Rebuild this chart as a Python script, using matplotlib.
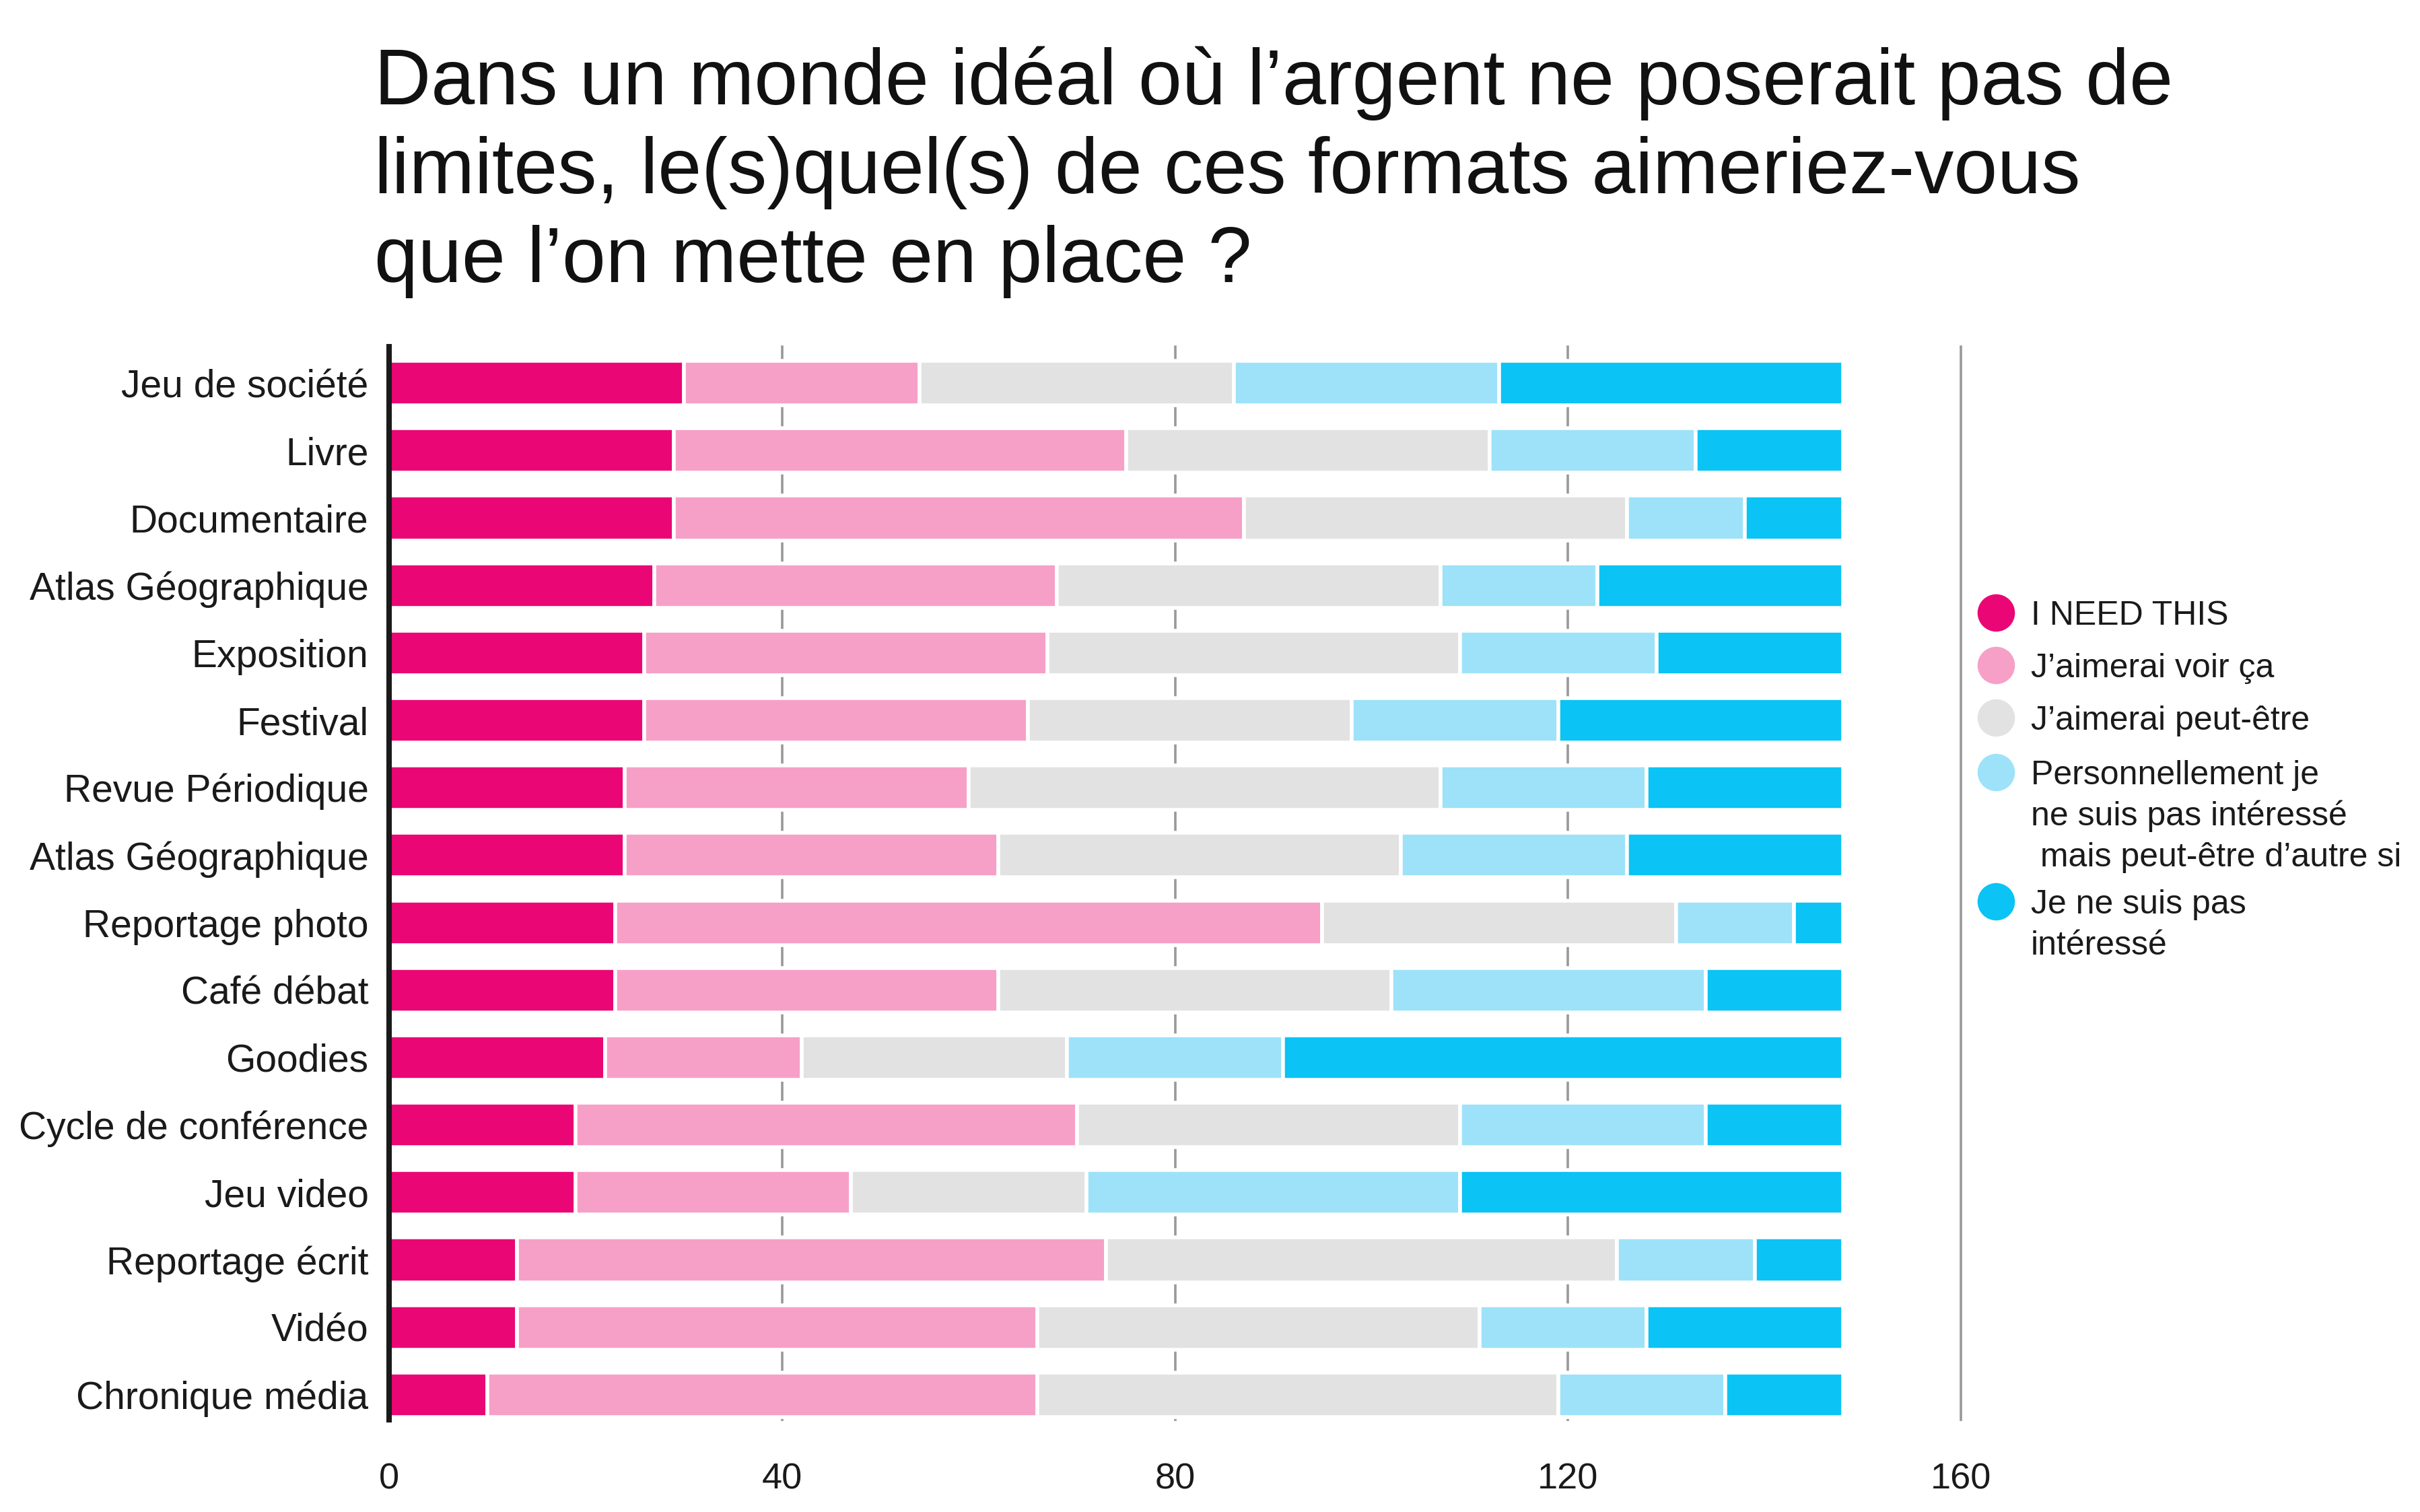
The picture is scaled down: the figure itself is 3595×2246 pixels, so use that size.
import matplotlib
matplotlib.use("Agg")
import matplotlib.pyplot as plt
from matplotlib.lines import Line2D
import numpy as np

plt.rcParams['font.family'] = ['Liberation Sans', 'DejaVu Sans']

categories = ["Jeu de société", "Livre", "Documentaire", "Atlas Géographique",
              "Exposition", "Festival", "Revue Périodique", "Atlas Géographique",
              "Reportage photo", "Café débat", "Goodies", "Cycle de conférence",
              "Jeu video", "Reportage écrit", "Vidéo", "Chronique média"]
need = [30, 29, 29, 27, 26, 26, 24, 24, 23, 23, 22, 19, 19, 13, 13, 10]
voir = [24, 46, 58, 41, 41, 39, 35, 38, 72, 39, 20, 51, 28, 60, 53, 56]
peut = [32, 37, 39, 39, 42, 33, 48, 41, 36, 40, 27, 39, 24, 52, 45, 53]
perso = [27, 21, 12, 16, 20, 21, 21, 23, 12, 32, 22, 25, 38, 14, 17, 17]
pas_int = [35, 15, 10, 25, 19, 29, 20, 22, 5, 14, 57, 14, 39, 9, 20, 12]

series = [need, voir, peut, perso, pas_int]
series_labels = ["I NEED THIS", "J’aimerai voir ça", "J’aimerai peut-être",
                 "Personnellement je\nne suis pas intéressé\n mais peut-être d’autre si",
                 "Je ne suis pas\nintéressé"]
colors = ["#EA0675", "#F6A0C8", "#E2E2E2", "#9DE2F9", "#0BC3F4"]
xticks = [0, 40, 80, 120, 160]
title_lines = ["Dans un monde idéal où l’argent ne poserait pas de",
               "limites, le(s)quel(s) de ces formats aimeriez-vous",
               "que l’on mette en place ?"]

W, H = 3595, 2246
fig = plt.figure(figsize=(W / 100, H / 100), dpi=100)
fig.patch.set_facecolor("white")

ax_left, ax_right, ax_top, ax_bottom = 578, 2913, 515, 2109
ax = fig.add_axes([ax_left / W, 1 - ax_bottom / H, (ax_right - ax_left) / W, (ax_bottom - ax_top) / H])

y = np.arange(len(categories))
left = np.zeros(len(categories))
for vals, col in zip(series, colors):
    ax.barh(y, vals, left=left, height=0.66, color=col, edgecolor="white",
            linewidth=4, zorder=3)
    left += np.array(vals)

ax.set_xlim(0, 160)
ax.set_ylim(15.37, -0.54)
ax.set_xticks(xticks)
ax.set_xticklabels([str(t) for t in xticks])
ax.set_yticks(y)
ax.set_yticklabels(categories)
ax.tick_params(axis="y", length=0, pad=22, labelsize=41, labelcolor="#1a1a1a")
ax.tick_params(axis="x", length=0, pad=46, labelsize=39, labelcolor="#1a1a1a")
ax.grid(axis="x", color="#999999", linewidth=2.6, zorder=0)
ax.set_axisbelow(True)
for s in ["top", "right", "bottom"]:
    ax.spines[s].set_visible(False)
ax.spines["left"].set_linewidth(5.8)
ax.spines["left"].set_color("#1a1a1a")
ax.spines["left"].set_zorder(5)
# keep the last gridline fully visible at the axes edge
for gl in ax.get_xgridlines():
    gl.set_clip_on(False)

# Title
title_x = 556 / W
for line, base in zip(title_lines, [155, 287, 419]):
    fig.text(title_x, 1 - base / H, line, fontsize=84, color="#111111",
             ha="left", va="baseline")

# Legend (manual)
mx, tx = 2965, 3017
marker_y = [910, 988, 1066, 1147, 1339]
for lab, col, my in zip(series_labels, colors, marker_y):
    fig.add_artist(Line2D([mx / W], [1 - my / H], marker="o", markersize=40,
                          color=col, markeredgewidth=0, linestyle="none",
                          transform=fig.transFigure))
    for i, part in enumerate(lab.split("\n")):
        base = my + 18 + i * 61
        fig.text(tx / W, 1 - base / H, part, fontsize=36, color="#1a1a1a",
                 ha="left", va="baseline")

fig.savefig("out.png", dpi=100, facecolor="white")
